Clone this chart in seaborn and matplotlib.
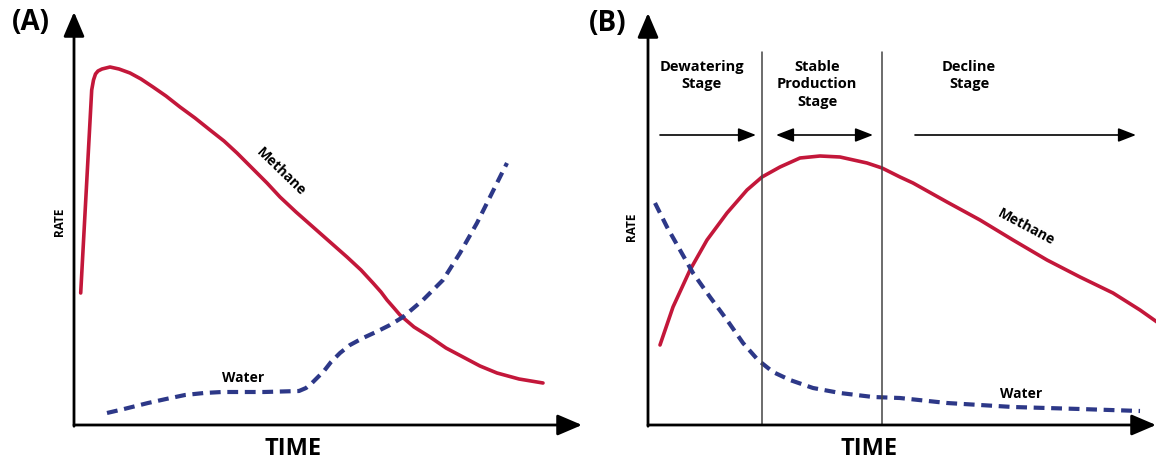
import numpy as np
import pandas as pd
import seaborn as sns
import matplotlib
matplotlib.use("Agg")
import matplotlib.pyplot as plt

sns.set_style("white")
plt.rcParams['font.family'] = ['Open Sans', 'DejaVu Sans']
plt.rcParams['text.color'] = 'black'

# ---- Panel A data (time, rate in arbitrary schematic units) ----
a_methane_t = [6.7, 17.7, 19.5, 21.5, 24, 28, 36, 45, 56, 67, 79, 92, 106, 121, 136, 150, 163, 178, 193,
               206, 222, 239, 256, 273, 287, 299, 307, 313, 320, 326, 340, 356, 372, 389, 406, 423, 445, 469]
a_methane_r = [132, 335, 345, 351, 354, 356, 358, 356, 352, 346, 338, 329, 318, 307, 295, 284, 272, 257, 242,
               228, 213, 198, 183, 168, 155, 142, 133, 125, 117, 110, 98, 88, 77, 68, 59, 52, 46, 42]
a_water_t = [33, 50, 74, 92, 111, 130, 148, 190, 225, 232, 238, 244, 250, 257, 266, 276, 289, 302, 316, 329,
             349, 369, 386, 403, 416, 425, 433]
a_water_r = [12, 16, 22, 26, 30, 32, 33, 33, 34, 37, 42, 48, 54, 63, 72, 80, 87, 93, 100, 108,
             125, 145, 172, 202, 228, 246, 262]

# ---- Panel B data ----
b_methane_t = [12, 25, 42, 59, 79, 99, 114, 132, 152, 172, 192, 219, 234, 252, 265, 299, 332, 365, 399, 432, 465, 492, 509]
b_methane_r = [80, 118, 155, 185, 212, 235, 248, 258, 267, 269, 268, 262, 257, 248, 242, 223, 205, 185, 165, 148, 132, 115, 103]
b_water_t = [7, 19, 32, 45, 62, 79, 95, 110, 125, 142, 165, 192, 225, 252, 299, 365, 432, 492]
b_water_r = [222, 198, 175, 152, 128, 105, 82, 65, 53, 45, 37, 32, 28, 27, 22, 18, 16, 14]

stage_bounds = [114, 234]
stage_labels = ["Dewatering\nStage", "Stable\nProduction\nStage", "Decline\nStage"]
stage_label_x = [54, 169, 321]

RED = "#c3173a"
BLUE = "#2d3888"

W, H = 1157, 463
fig = plt.figure(figsize=(W / 100, H / 100), dpi=100)


def px_axes(left, right, top, bottom):
    return fig.add_axes([left / W, (H - bottom) / H, (right - left) / W, (bottom - top) / H])


def style_axes(ax, xmax, ymax):
    ax.set_xlim(0, xmax)
    ax.set_ylim(0, ymax)
    for s in ax.spines.values():
        s.set_visible(False)
    ax.set_xticks([])
    ax.set_yticks([])
    ax.set_xlabel("")
    ax.set_ylabel("")
    ax.patch.set_alpha(0)
    ap = dict(arrowstyle="-|>,head_length=0.75,head_width=0.32", lw=2.0, color="black",
              shrinkA=0, shrinkB=0, mutation_scale=20)
    ax.annotate("", xy=(1, 0), xytext=(0, 0), xycoords="axes fraction", arrowprops=ap, annotation_clip=False)
    ax.annotate("", xy=(0, 1), xytext=(0, -0.003), xycoords="axes fraction", arrowprops=ap, annotation_clip=False)


line_kw = dict(estimator=None, sort=False)
solid_kw = dict(color=RED, lw=2.6, solid_capstyle="round", solid_joinstyle="round")
dash_kw = dict(color=BLUE, lw=3.0, linestyle=(0, (2.6, 1.6)), dash_joinstyle="round")

# ---------------- Panel A ----------------
axA = px_axes(74, 582, 12, 425)
sns.lineplot(x=a_methane_t, y=a_methane_r, ax=axA, **line_kw, **solid_kw)
sns.lineplot(x=a_water_t, y=a_water_r, ax=axA, **line_kw, **dash_kw)
style_axes(axA, 508, 413)
axA.text(207, 253, "Methane", rotation=-44, ha="center", va="center", fontsize=10, fontweight="bold")
axA.text(169, 47, "Water", ha="center", va="center", fontsize=10, fontweight="bold")
axA.text(-15, 203, "RATE", rotation=90, ha="center", va="center", fontsize=8.5, fontweight="bold")
axA.text(219, -24, "TIME", ha="center", va="center", fontsize=17, fontweight="bold")
axA.text(-43, 402, "(A)", ha="center", va="center", fontsize=20, fontweight="bold")

# ---------------- Panel B ----------------
axB = px_axes(648, 1156, 13, 425)
sns.lineplot(x=b_methane_t, y=b_methane_r, ax=axB, **line_kw, **solid_kw)
sns.lineplot(x=b_water_t, y=b_water_r, ax=axB, **line_kw, **dash_kw)
style_axes(axB, 508, 412)
for xb in stage_bounds:
    axB.plot([xb, xb], [0, 373], color="#444444", lw=1.1)
for lbl, xl in zip(stage_labels, stage_label_x):
    axB.text(xl, 365, lbl, ha="center", va="top", fontsize=10.5, fontweight="bold", linespacing=1.3)
sap = dict(lw=1.2, color="black", shrinkA=0, shrinkB=0, mutation_scale=12)
axB.annotate("", xy=(108, 290), xytext=(12, 290), arrowprops=dict(arrowstyle="-|>,head_length=0.9,head_width=0.35", **sap))
axB.annotate("", xy=(225, 290), xytext=(128, 290), arrowprops=dict(arrowstyle="<|-|>,head_length=0.9,head_width=0.35", **sap))
axB.annotate("", xy=(488, 290), xytext=(267, 290), arrowprops=dict(arrowstyle="-|>,head_length=0.9,head_width=0.35", **sap))
axB.text(378, 198, "Methane", rotation=-28, ha="center", va="center", fontsize=10, fontweight="bold")
axB.text(373, 31, "Water", ha="center", va="center", fontsize=10, fontweight="bold")
axB.text(-16, 198, "RATE", rotation=90, ha="center", va="center", fontsize=8.5, fontweight="bold")
axB.text(221, -24, "TIME", ha="center", va="center", fontsize=17, fontweight="bold")
axB.text(-40, 402, "(B)", ha="center", va="center", fontsize=20, fontweight="bold")

fig.savefig("out.png", dpi=100)
